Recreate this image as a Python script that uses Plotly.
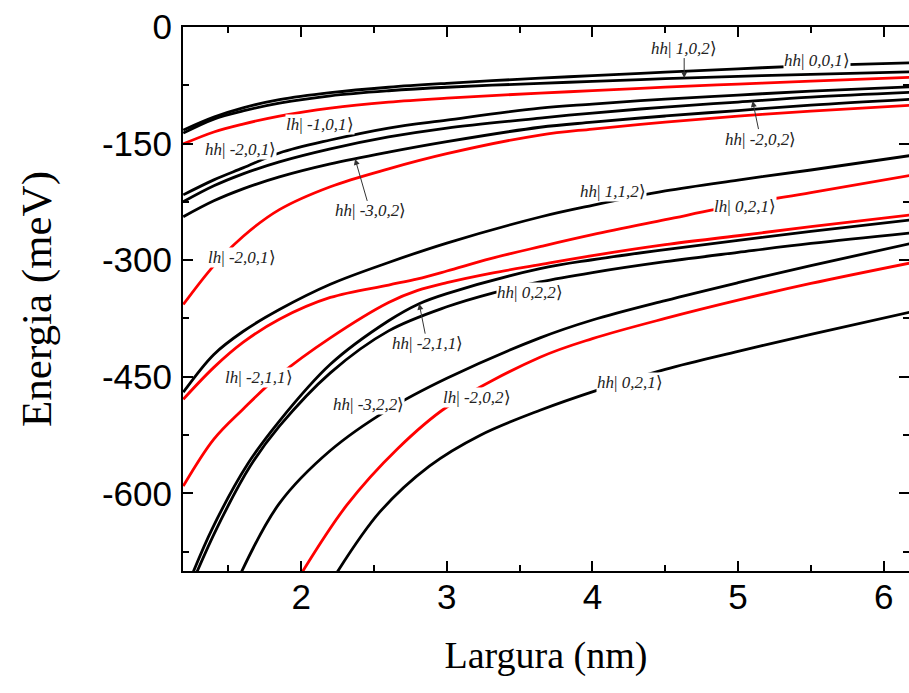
import numpy as np
import plotly.graph_objects as go

# Well width (nm) sample points shared by the curves that span the whole range
width_full = [1.19, 1.40, 1.60, 1.85, 2.20, 2.60, 3.00, 3.64, 4.00, 4.50, 5.00, 5.50, 6.20]

# Upper group of levels (meV)
hh_001 = [-132.6, -115.9, -104.0, -93.5, -84.5, -77.5, -72.5, -65.8, -62.6, -58.1, -53.8, -49.8, -45.9]
hh_102 = [-136.5, -118.5, -108.0, -98.0, -88.5, -82.0, -77.5, -72.5, -70.0, -66.5, -63.5, -61.0, -57.5]
lh_m101 = [-150.5, -135.1, -124.9, -114.6, -104.3, -96.6, -91.5, -85.1, -81.9, -77.4, -73.5, -69.7, -64.5]
hh_m201 = [-216.0, -196.7, -181.3, -162.1, -145.4, -130.0, -119.7, -104.3, -99.2, -92.8, -87.6, -82.5, -76.7]
hh_m202 = [-224.9, -204.4, -189.0, -173.6, -156.9, -141.5, -130.0, -117.2, -110.7, -103.0, -96.6, -90.2, -83.8]
hh_m302 = [-244.2, -223.7, -208.3, -192.9, -176.2, -161.0, -147.5, -129.0, -122.5, -114.5, -107.5, -100.5, -92.8]
lh_m201 = [-357.1, -307.0, -269.5, -235.0, -205.5, -182.5, -163.0, -139.0, -131.3, -122.3, -114.6, -108.2, -100.5]

# Middle group
hh_112 = [-470.0, -421.3, -391.8, -363.5, -331.0, -303.0, -278.0, -244.5, -229.5, -211.0, -197.0, -184.0, -165.0]

w_lh_021 = [1.19, 1.40, 1.60, 1.85, 2.20, 2.60, 2.80, 3.00, 3.30, 3.64, 4.00, 4.50, 5.00, 5.50, 6.20]
lh_021 = [-479.0, -438.0, -405.9, -376.0, -348.0, -332.0, -324.0, -314.0, -298.0, -282.7, -267.3, -248.0, -229.0, -213.0, -190.3]

w_lh_m211 = [1.19, 1.40, 1.60, 1.85, 2.20, 2.60, 2.80, 3.00, 3.30, 3.64, 4.00, 4.50, 5.00, 5.50, 6.20]
lh_m211 = [-590.7, -530.3, -491.8, -448.0, -400.0, -354.5, -339.0, -329.0, -317.0, -305.8, -294.2, -280.1, -268.6, -257.0, -241.6]

# Deeper levels enter the window from below
w_hh_m211 = [1.25, 1.39, 1.63, 1.85, 2.20, 2.60, 2.81, 3.00, 3.64, 4.00, 4.50, 5.00, 5.50, 6.20]
hh_m211 = [-705.0, -645.0, -563.0, -507.0, -434.0, -378.0, -356.0, -343.0, -311.0, -299.5, -286.5, -274.5, -263.0, -248.0]

w_hh_022 = [1.275, 1.42, 1.65, 1.85, 2.20, 2.60, 3.00, 3.32, 3.64, 4.00, 4.50, 5.00, 5.50, 6.20]
hh_022 = [-705.0, -645.0, -565.0, -513.7, -445.0, -391.0, -360.0, -342.0, -328.0, -316.0, -302.0, -290.0, -278.5, -264.7]

w_hh_m322 = [1.58, 1.85, 2.20, 2.60, 3.00, 3.64, 4.00, 4.50, 5.00, 5.50, 6.20]
hh_m322 = [-705.0, -613.0, -545.0, -492.0, -452.0, -400.0, -377.0, -352.0, -329.0, -307.0, -278.0]

w_lh_m202 = [1.995, 2.31, 2.66, 3.00, 3.64, 4.00, 4.50, 5.00, 5.50, 6.20]
lh_m202 = [-705.0, -616.0, -543.0, -489.0, -425.0, -401.0, -375.0, -351.5, -330.0, -303.0]

w_hh_021 = [2.235, 2.54, 2.88, 3.23, 3.64, 4.03, 4.50, 5.00, 5.50, 6.20]
hh_021 = [-705.0, -624.0, -565.0, -525.2, -493.1, -467.5, -440.5, -417.4, -395.6, -366.1]

# Axis ticks
x_ticks = [2, 3, 4, 5, 6]
x_tick_text = ["2", "3", "4", "5", "6"]
y_ticks = [0, -150, -300, -450, -600]
y_tick_text = ["0", "-150", "-300", "-450", "-600"]

BLACK = "#000000"
RED = "#ff0000"

curves = [
    (width_full, hh_001, BLACK),
    (width_full, hh_102, BLACK),
    (width_full, lh_m101, RED),
    (width_full, hh_m201, BLACK),
    (width_full, hh_m202, BLACK),
    (width_full, hh_m302, BLACK),
    (width_full, lh_m201, RED),
    (width_full, hh_112, BLACK),
    (w_lh_021, lh_021, RED),
    (w_lh_m211, lh_m211, RED),
    (w_hh_m211, hh_m211, BLACK),
    (w_hh_022, hh_022, BLACK),
    (w_hh_m322, hh_m322, BLACK),
    (w_lh_m202, lh_m202, RED),
    (w_hh_021, hh_021, BLACK),
]

fig = go.Figure()
for xs, ys, col in curves:
    fig.add_trace(go.Scatter(
        x=xs, y=ys, mode="lines",
        line=dict(color=col, width=2.8, shape="spline", smoothing=1.0),
        showlegend=False, hoverinfo="skip",
    ))


def state(kind, q):
    return f"<i>{kind}</i>| <i>{q}</i>⟩"


# Labels placed in the open space next to their curves
free_labels = [
    ("hh", "0,0,1", 5.54, -42.7),
    ("lh", "-1,0,1", 2.13, -124.9),
    ("hh", "-2,0,1", 1.58, -158.2),
    ("lh", "-2,0,1", 1.59, -296.8),
    ("hh", "1,1,2", 4.14, -212.1),
    ("lh", "0,2,1", 5.05, -231.4),
    ("hh", "0,2,2", 3.57, -341.7),
    ("lh", "-2,1,1", 1.71, -450.8),
    ("hh", "-3,2,2", 2.46, -485.4),
    ("lh", "-2,0,2", 3.21, -476.5),
    ("hh", "0,2,1", 4.26, -457.2),
]

label_font = dict(family="Liberation Serif, Times New Roman, serif", size=17, color="#222222")

for kind, q, lx, ly in free_labels:
    fig.add_annotation(
        x=lx, y=ly, xref="x", yref="y", text=state(kind, q),
        showarrow=False, font=label_font, bgcolor="white", borderpad=0,
    )

# Labels tied to a curve with an arrow: (kind, quantum numbers, curve x, curve y, arrow width, dx, dy)
arrow_labels = [
    ("hh", "1,0,2", width_full, hh_102, 4.63, 0, -30),
    ("hh", "-2,0,2", width_full, hh_m202, 5.10, 8, 38),
    ("hh", "-3,0,2", width_full, hh_m302, 2.37, 15, 52),
    ("hh", "-2,1,1", w_hh_m211, hh_m211, 2.81, 8, 40),
]

for kind, q, cx, cy, ax_w, dx, dy in arrow_labels:
    target = float(np.interp(ax_w, cx, cy))
    fig.add_annotation(
        x=ax_w, y=target, xref="x", yref="y", text=state(kind, q),
        showarrow=True, ax=dx, ay=dy, arrowhead=2, arrowsize=1.2, arrowwidth=1,
        arrowcolor="#333333", font=label_font, bgcolor="white", borderpad=0,
    )

axis_common = dict(
    showline=True, linecolor="black", linewidth=2, mirror="ticks",
    ticks="inside", ticklen=10, tickwidth=2, tickcolor="black",
    showgrid=False, zeroline=False,
    tickfont=dict(family="Liberation Sans, Arial, sans-serif", size=35, color="black"),
)

fig.update_xaxes(
    range=[1.188, 6.174], tickvals=x_ticks, ticktext=x_tick_text,
    minor=dict(dtick=0.5, ticks="inside", ticklen=6, tickwidth=2, tickcolor="black", showgrid=False),
    title=dict(text="Largura (nm)", font=dict(family="Liberation Serif, Times New Roman, serif", size=38, color="black"), standoff=26),
    ticklabelstandoff=-6,
    **axis_common,
)
fig.update_yaxes(
    range=[-700, 0], tickvals=y_ticks, ticktext=y_tick_text,
    minor=dict(dtick=75, ticks="inside", ticklen=6, tickwidth=2, tickcolor="black", showgrid=False),
    title=dict(text="Energia (meV)", font=dict(family="Liberation Serif, Times New Roman, serif", size=43, color="black"), standoff=37),
    ticklabelstandoff=2,
    **axis_common,
)

fig.update_layout(
    width=909, height=693,
    margin=dict(l=183, r=0, t=27, b=122, autoexpand=False),
    paper_bgcolor="white", plot_bgcolor="white",
)

fig.write_html("out.html")
